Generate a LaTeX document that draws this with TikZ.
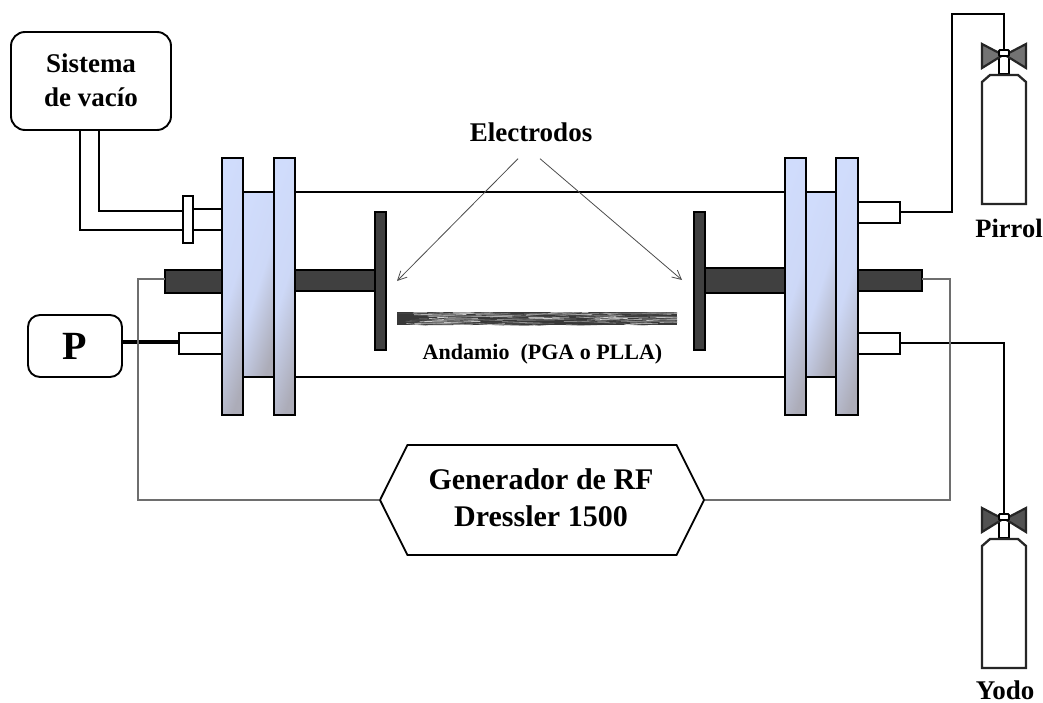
\documentclass[tikz,border=0pt]{standalone}
\usepackage{fontspec}
\setmainfont{Liberation Serif}
\usetikzlibrary{positioning}
\usetikzlibrary{calc}
\usetikzlibrary{shapes.symbols}
\usetikzlibrary{arrows.meta}

\definecolor{flangeblue}{RGB}{208,220,252}
\definecolor{flangegray}{RGB}{172,172,184}
\definecolor{roddark}{RGB}{64,64,64}
\definecolor{wiregray}{RGB}{110,110,110}

\tikzset{
	wall/.style={draw=black,line width=2.2pt},
	flange/.style={wall,top color=flangeblue,bottom color=flangegray,middle color=flangeblue!92!flangegray,shading angle=72},
	pipe/.style={draw=black,line width=1.9pt},
	rod/.style={draw=black,line width=1.8pt,fill=roddark},
	port/.style={draw=black,line width=1.8pt,fill=white},
	gasline/.style={draw=black,line width=2.2pt},
	rfwire/.style={draw=wiregray,line width=2.2pt},
	thinarrow/.style={-{Straight Barb[length=9pt,width=9pt]},draw=black!70,line width=0.8pt},
	label/.style={font=\bfseries\fontsize{27}{33}\selectfont,align=center,inner sep=0pt},
	box/.style={draw=black,line width=1.9pt,rounded corners=14pt,fill=white},
	bottle/.pic={
		\draw[draw=black,line width=1.8pt,fill=white] (-5,1) rectangle (5,19);
		\draw[draw=black!85,line width=2.2pt,fill=#1] (-1,0) -- (-22,-11) -- (-22,13) -- cycle;
		\draw[draw=black!85,line width=2.2pt,fill=#1] (1,0) -- (22,-11) -- (22,13) -- cycle;
		\draw[draw=black,line width=1.8pt,fill=white,rounded corners=1pt] (-5,-5) rectangle (5,1);
		\draw[draw=black!85,line width=2.3pt,fill=white] (-22,27) -- (-14,20) -- (14,20) -- (22,27) -- (22,149) -- (-22,149) -- cycle;
	}
}

\begin{document}
\begin{tikzpicture}[x=1pt,y=-1pt]

	% Proper size
	\useasboundingbox (0,0) rectangle (1043,703);

	% Named points of the gas and rf lines
	\coordinate (VP) at (1004,55);
	\coordinate (VY) at (1004,519);
	\coordinate (PL) at (179,342);
	\coordinate (PU) at (900,212);
	\coordinate (PD) at (900,343);
	\coordinate (RL) at (165,279);
	\coordinate (RR) at (922,279);
	\coordinate (WL) at (138,279);
	\coordinate (WR) at (950,279);
	\coordinate (HT) at (952,14);
	\coordinate (ArrL) at (397,281);
	\coordinate (ArrR) at (682,280);

	% Chamber tube
	\draw[pipe] (295,192) -- (785,192);
	\draw[pipe] (295,377) -- (785,377);

	% Vacuum pipe
	\node[box,minimum width=160pt,minimum height=98pt] (vac) at (91,81) {};
	\node[label] (vactext) at (91,80) {Sistema\\[1pt]de vacío};
	\draw[pipe] (80,131) -- (80,230) -- (183,230);
	\draw[pipe] (99,131) -- (99,211) -- (183,211);
	\draw[pipe] (193,209) -- (222,209);
	\draw[pipe] (193,230) -- (222,230);
	\draw[port] (183,196) rectangle (193,243);

	% Ports
	\draw[port] (222,333) rectangle (179,354);
	\draw[port] (858,333) rectangle (900,354);
	\draw[port] (858,202) rectangle (900,223);

	% Rods and electrodes
	\draw[rod] (165,270) rectangle (222,293);
	\draw[rod] (295,270) rectangle (375,291);
	\draw[rod] (375,212) rectangle (386,350);
	\draw[rod] (694,212) rectangle (705,350);
	\draw[rod] (705,268) rectangle (785,293);
	\draw[rod] (858,270) rectangle (922,291);

	% Left flanges
	\draw[flange] (243,192) rectangle (274,377);
	\draw[flange] (222,158) rectangle (243,415);
	\draw[flange] (274,158) rectangle (295,415);

	% Right flanges
	\draw[flange] (806,192) rectangle (836,377);
	\draw[flange] (785,158) rectangle (806,415);
	\draw[flange] (836,158) rectangle (858,415);

	% Scaffold
	\begin{scope}
		\clip (397,312) rectangle (677,325);
		\fill[black!78] (397,312) rectangle (677,325);
		\pgfmathsetseed{7}
		\foreach \i in {1,...,130}{
			\pgfmathsetmacro{\xa}{397+280*rnd}
			\pgfmathsetmacro{\ya}{312+13*rnd}
			\pgfmathsetmacro{\ln}{10+32*rnd}
			\pgfmathsetmacro{\tn}{15+60*rnd}
			\pgfmathsetmacro{\dy}{-2+4*rnd}
			\draw[black!\tn,line width=0.8pt] (\xa,\ya) -- ++(\ln,\dy);
		}
	\end{scope}

	% Boxes
	\node[box,minimum width=94pt,minimum height=62pt,rounded corners=12pt] (P) at (75,346) {};
	\node[label,font=\bfseries\fontsize{40}{44}\selectfont] (Ptext) at (75,346) {P};
	\node[signal,signal to=west and east,signal pointer angle=127,draw=black,line width=1.8pt,fill=white,
		minimum width=324pt,minimum height=110pt,inner sep=0pt] (RF) at (542,500) {};
	\node[label,font=\bfseries\fontsize{30}{37}\selectfont] (RFtext) at (541,498) {Generador de RF\\Dressler 1500};

	% Gas bottles
	\pic at (VP) {bottle={black!55}};
	\pic at (VY) {bottle={black!68}};

	% Gas lines
	\draw[gasline] (PU) -- (HT |- PU) -- (HT) -- (VP |- HT) -- ($(VP)+(0,-6)$);
	\draw[gasline] (PD) -- (VY |- PD) -- ($(VY)+(0,-6)$);
	\draw[line width=3.4pt,black] (P.east |- PL) -- (PL);

	% RF wires
	\draw[rfwire] (RL) -- (WL) -- (WL |- RF.west) -- (RF.west);
	\draw[rfwire] (RR) -- (WR) -- (WR |- RF.east) -- (RF.east);

	% Labels
	\node[label] (Elec) at (531,132) {Electrodos};
	\node[label,font=\bfseries\fontsize{22}{26}\selectfont] (Anda) at (542.5,354) {Andamio\hspace{0.25em} (PGA o PLLA)};
	\node[label,font=\bfseries\fontsize{26.5}{30}\selectfont] (Pirrol) at (1009,228) {Pirrol};
	\node[label] (Yodo) at (1005,690) {Yodo};

	% Arrows
	\draw[thinarrow] ([xshift=-13pt,yshift=-17pt]Elec.south) -- (ArrL);
	\draw[thinarrow] ([xshift=9pt,yshift=-17pt]Elec.south) -- (ArrR);

\end{tikzpicture}
\end{document}
